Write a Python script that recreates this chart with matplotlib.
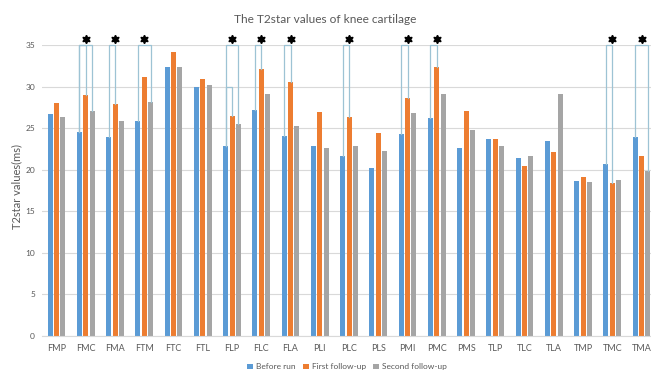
import matplotlib
matplotlib.use("Agg")
import matplotlib.pyplot as plt
import numpy as np

sites = ["FMP", "FMC", "FMA", "FTM", "FTC", "FTL", "FLP", "FLC", "FLA", "PLI", "PLC",
         "PLS", "PMI", "PMC", "PMS", "TLP", "TLC", "TLA", "TMP", "TMC", "TMA"]
before_run = [26.7, 24.5, 23.9, 25.9, 32.4, 30.0, 22.9, 27.2, 24.0, 22.85, 21.65,
              20.2, 24.3, 26.2, 22.65, 23.65, 21.45, 23.4, 18.7, 20.7, 23.9]
first_fu = [28.0, 29.0, 27.95, 31.1, 34.2, 30.9, 26.5, 32.1, 30.6, 26.9, 26.3,
            24.4, 28.6, 32.35, 27.1, 23.7, 20.45, 22.1, 19.1, 18.4, 21.6]
second_fu = [26.3, 27.05, 25.8, 28.1, 32.3, 30.2, 25.5, 29.1, 25.25, 22.6, 22.85,
             22.3, 26.8, 29.1, 24.8, 22.9, 21.65, 29.1, 18.5, 18.8, 19.85]
series_names = ["Before run", "First follow-up", "Second follow-up"]

# significance brackets: site -> (series a, series b, bracket height)
brackets = [
    ("FMC", [(0, 1, 35), (0, 2, 35)]),
    ("FMA", [(0, 1, 35)]),
    ("FTM", [(0, 2, 35)]),
    ("FLP", [(0, 2, 35), (0, 1, 30)]),
    ("FLC", [(0, 1, 35)]),
    ("FLA", [(0, 1, 35)]),
    ("PLC", [(0, 1, 35)]),
    ("PMI", [(0, 1, 35)]),
    ("PMC", [(0, 1, 35)]),
    ("TMC", [(0, 1, 35)]),
    ("TMA", [(0, 2, 35)]),
]

COLORS = ["#5B9BD5", "#ED7D31", "#A5A5A5"]
TXT = "#595959"
LINE = "#9DC3D4"
FONT = "Lato"

fig = plt.figure(figsize=(6.51, 3.76), dpi=100)
ax = fig.add_axes([0.0644, 0.1064, 0.9435, 0.774])

x = np.arange(len(sites))
offs = 0.219
width = 0.17
data = [before_run, first_fu, second_fu]
for i, (vals, name) in enumerate(zip(data, series_names)):
    ax.bar(x + (i - 1) * offs, vals, width, color=COLORS[i], label=name, zorder=2)

for site, pairs in brackets:
    k = sites.index(site)
    for a, b, top in pairs:
        xa = k + (a - 1) * offs
        xb = k + (b - 1) * offs
        ax.plot([xa, xa, xb, xb], [data[a][k], top, top, data[b][k]], color=LINE,
                lw=0.9, zorder=3, clip_on=False)
    ax.plot(k, 35.7, marker=(6, 1, 0), ms=6, color="black", clip_on=False, zorder=4)

ax.set_xlim(-0.5, len(sites) - 0.5)
ax.set_ylim(0, 35)
ax.set_yticks(range(0, 36, 5))
ax.set_xticks(x)
ax.set_xticklabels(sites)
ax.yaxis.grid(True, color="#D9D9D9", lw=0.8, zorder=0)
ax.set_axisbelow(True)
for s in ax.spines.values():
    s.set_visible(False)
ax.spines["bottom"].set_visible(True)
ax.spines["bottom"].set_color("#D9D9D9")
ax.tick_params(axis="both", length=0, labelcolor=TXT)
ax.tick_params(axis="x", pad=6, labelsize=6.5)
ax.tick_params(axis="y", pad=5, labelsize=6)
for lab in ax.get_xticklabels() + ax.get_yticklabels():
    lab.set_fontfamily(FONT)

fig.text(17 / 651, 1 - 186 / 376, "T2star values(ms)", rotation=90, ha="center",
         va="center", fontsize=8, color=TXT, family=FONT)
fig.text(0.5, 0.947, "The T2star values of knee cartilage", ha="center", va="center",
         fontsize=8.6, color=TXT, family=FONT)

leg = fig.legend(loc="center", bbox_to_anchor=(0.533, 0.024), ncol=3, frameon=False,
                 handlelength=0.7, handleheight=0.7, handletextpad=0.4,
                 columnspacing=0.8, prop={"family": FONT, "size": 6})
for t in leg.get_texts():
    t.set_color(TXT)

fig.savefig("out.png", dpi=100)
